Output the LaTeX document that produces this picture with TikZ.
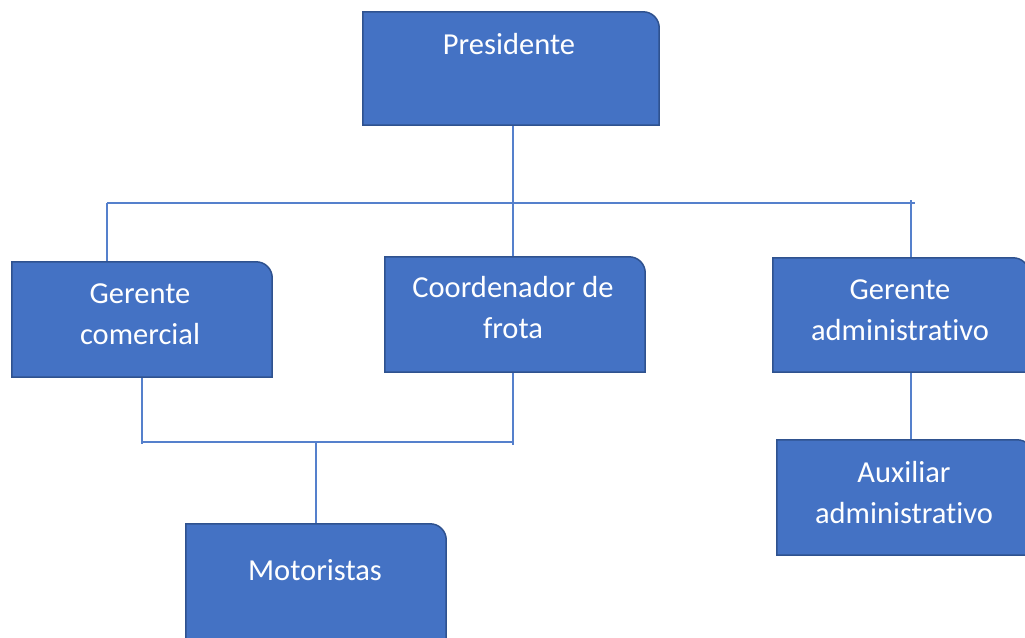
\documentclass[tikz,border=0pt]{standalone}
\usepackage{fontspec}
\setmainfont[Ligatures=NoCommon]{Carlito}
\usetikzlibrary{backgrounds}

\definecolor{azul}{HTML}{4472C4}
\definecolor{borda}{HTML}{2F528F}
\definecolor{linha}{HTML}{5580CC}

\tikzset{
  cargo/.style={minimum width=260pt, minimum height=115pt, inner sep=0pt},
  rotulo/.style={text=white, align=center, font=\fontsize{30.5}{41}\selectfont},
  ligacao/.style={draw=linha, line width=1.4pt},
  caixa/.style={fill=azul, draw=borda, line width=1.5pt},
}

% corpo da caixa, so o canto superior direito arredondado
\newcommand{\caixa}[1]{%
  \filldraw[caixa] (#1.south west) -- (#1.north west) -- ([xshift=-16pt]#1.north east)
    arc[start angle=90, end angle=0, radius=16pt] -- (#1.south east) -- cycle;}

\begin{document}
\begin{tikzpicture}[x=1pt, y=-1pt]
  \useasboundingbox (0,0) rectangle (1025,637);
  % caixas
  \node[cargo, minimum width=296pt, minimum height=113pt] (pres) at (511,68.5) {};
  \node[cargo] (gcom) at (142,319.5) {};
  \node[cargo] (coord) at (515,314.5) {};
  \node[cargo, minimum width=256pt, minimum height=114pt] (gadm) at (901,315) {};
  \node[cargo, minimum width=256pt] (aux) at (905,497.5) {};
  \node[cargo] (mot) at (316,581.5) {};
  % textos
  \node[rotulo] (tpres) at (509,44) {Presidente};
  \node[rotulo] (tgcom) at (140,314) {Gerente\\comercial};
  \node[rotulo] (tcoord) at (513,308) {Coordenador de\\frota};
  \node[rotulo] (tgadm) at (900,310) {Gerente\\administrativo};
  \node[rotulo] (taux) at (904,493) {Auxiliar\\administrativo};
  \node[rotulo] (tmot) at (315,570) {Motoristas};
  \begin{scope}[on background layer]
    % ligacoes
    \coordinate (barraE) at (107,203);
    \coordinate (barraD) at (915,203);
    \coordinate (ramoD) at (911,200);
    \coordinate (barraM) at (513,442);
    \draw[ligacao] (barraE) -- (barraD);
    \draw[ligacao] (pres.south -| barraM) -- (coord.north -| barraM);
    \draw[ligacao] (barraE) -- (barraE |- gcom.north);
    \draw[ligacao] (ramoD) -- (ramoD |- gadm.north);
    \draw[ligacao] (ramoD |- gadm.south) -- (ramoD |- aux.north);
    \draw[ligacao] (gcom.south) -- ([yshift=-2pt]gcom.south |- barraM);
    \draw[ligacao] (barraM |- coord.south) -- ([yshift=-3pt]barraM);
    \draw[ligacao] (gcom.south |- barraM) -- (barraM);
    \draw[ligacao] (mot.north |- barraM) -- (mot.north);
    \foreach \n in {pres,gcom,coord,gadm,aux,mot}
      \caixa{\n};
  \end{scope}
\end{tikzpicture}
\end{document}
